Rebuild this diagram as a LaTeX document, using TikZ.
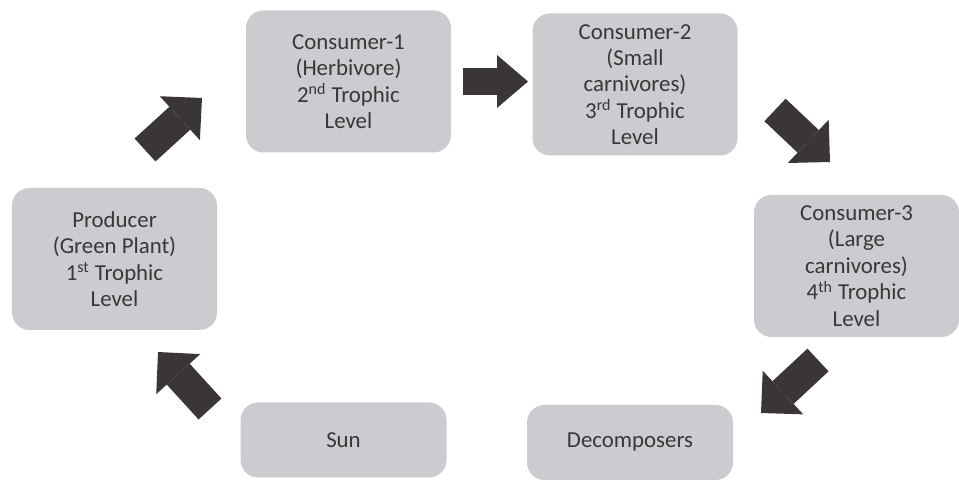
\documentclass[tikz,border=0pt]{standalone}
\usepackage{fontspec}
\setmainfont{Carlito}
\usetikzlibrary{arrows.meta,positioning}
\definecolor{tlBox}{HTML}{CBCBD0}
\definecolor{tlText}{HTML}{383838}
\definecolor{tlArrow}{HTML}{3A3636}
\tikzset{
  tl/.style={fill=tlBox,text=tlText,rounded corners=3.5mm,align=center,inner sep=2pt,
             minimum width=41mm,minimum height=28.4mm,font=\fontsize{13}{15}\selectfont},
  tlflat/.style={tl,minimum width=41.2mm,minimum height=15mm},
  tlflow/.style={draw=tlArrow,line width=6.2mm,
                 -{Triangle[length=6mm,width=11.9mm,line width=0pt,fill=tlArrow]}},
  tlflowh/.style={draw=tlArrow,line width=5.4mm,
                  -{Triangle[length=6.2mm,width=10.6mm,line width=0pt,fill=tlArrow]}},
}
\begin{document}
\begin{tikzpicture}
  \useasboundingbox (0,0) rectangle (19.18,9.68);
  \node[tl] (P)  at (2.29,4.50)  {Producer\\(Green Plant)\\1\textsuperscript{st} Trophic\\Level};
  \node[tl] (C1) at (6.97,8.05)  {Consumer-1\\(Herbivore)\\2\textsuperscript{nd} Trophic\\Level};
  \node[tl] (C2) at (12.70,7.99) {Consumer-2\\(Small\\carnivores)\\3\textsuperscript{rd} Trophic\\Level};
  \node[tl] (C3) at (17.13,4.36) {Consumer-3\\(Large\\carnivores)\\4\textsuperscript{th} Trophic\\Level};
  \node[tlflat] (S) at (6.87,0.88)  {Sun};
  \node[tlflat] (D) at (12.60,0.83) {Decomposers};

  % tails and tips of the block arrows
  \coordinate (PC1s)  at (2.90,6.68);  \coordinate (PC1e)  at (4.04,7.72);
  \coordinate (C1C2s) at (9.26,8.05);  \coordinate (C1C2e) at (10.56,8.05);
  \coordinate (C2C3s) at (15.50,7.48); \coordinate (C2C3e) at (16.60,6.44);
  \coordinate (C3Ds)  at (16.36,2.48); \coordinate (C3De)  at (15.22,1.42);
  \coordinate (SPs)   at (4.20,1.50);  \coordinate (SPe)   at (3.16,2.64);

  \draw[tlflow]  (PC1s) -- (PC1e);
  \draw[tlflowh] (C1C2s) -- (C1C2e);
  \draw[tlflow]  (C2C3s) -- (C2C3e);
  \draw[tlflow]  (C3Ds) -- (C3De);
  \draw[tlflow]  (SPs) -- (SPe);
\end{tikzpicture}
\end{document}
